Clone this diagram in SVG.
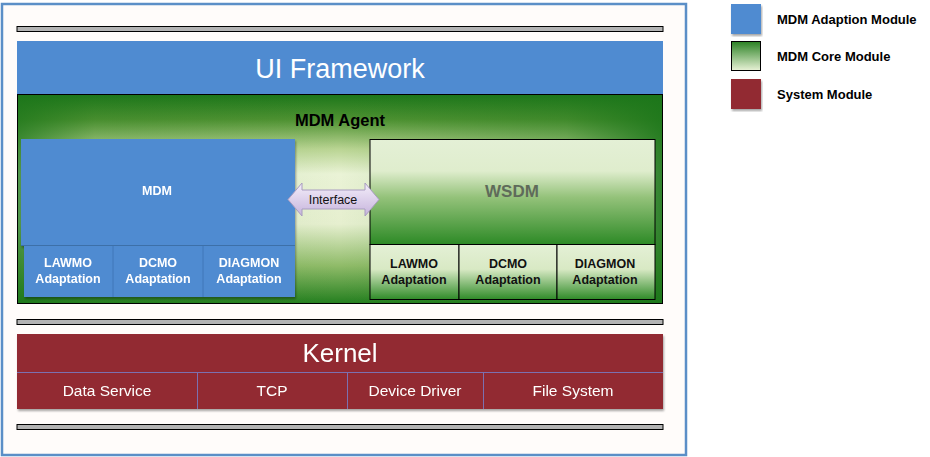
<svg xmlns="http://www.w3.org/2000/svg" width="930" height="457" viewBox="0 0 930 457">
<defs>
<style>
.t{font-family:"Liberation Sans",Arial,sans-serif}
.b{font-weight:bold}
.bar{fill:#b3b3b3;stroke:#000;stroke-width:1}
.blue{fill:#4f8bd1}
.adw{fill:#fff;font-size:12.5px;font-weight:bold;text-anchor:middle}
.adk{fill:#111;font-size:12.5px;font-weight:bold;text-anchor:middle}
.cell{fill:url(#gcell);stroke:#000;stroke-width:1}
.kc{fill:#fff;font-size:15.5px;text-anchor:middle}
.leg{font-size:13px;font-weight:bold;fill:#000}
</style>
<linearGradient id="gagent" x1="0" y1="0" x2="0" y2="1">
<stop offset="0" stop-color="#1c761a"/>
<stop offset="0.12" stop-color="#4f9232"/>
<stop offset="0.26" stop-color="#b9d492"/>
<stop offset="0.38" stop-color="#eaf3d6"/>
<stop offset="0.62" stop-color="#e6efcf"/>
<stop offset="0.82" stop-color="#8fbb68"/>
<stop offset="1" stop-color="#247f1f"/>
</linearGradient>
<linearGradient id="gedge" x1="0" y1="0" x2="1" y2="0">
<stop offset="0" stop-color="#1c761a" stop-opacity="0.75"/>
<stop offset="0.12" stop-color="#1c761a" stop-opacity="0.15"/>
<stop offset="0.5" stop-color="#1c761a" stop-opacity="0"/>
<stop offset="0.85" stop-color="#1c761a" stop-opacity="0.3"/>
<stop offset="1" stop-color="#1c761a" stop-opacity="0.9"/>
</linearGradient>
<linearGradient id="gwsdm" x1="0" y1="0" x2="0" y2="1">
<stop offset="0" stop-color="#e4f0d6"/>
<stop offset="0.3" stop-color="#dfedcd"/>
<stop offset="0.55" stop-color="#94c27a"/>
<stop offset="1" stop-color="#2d8a26"/>
</linearGradient>
<linearGradient id="gcell" x1="0" y1="0" x2="0" y2="1">
<stop offset="0" stop-color="#e4f0d6"/>
<stop offset="0.45" stop-color="#d8e9c4"/>
<stop offset="1" stop-color="#2f8b28"/>
</linearGradient>
<linearGradient id="glegend" x1="0" y1="0" x2="0" y2="1">
<stop offset="0" stop-color="#2b8124"/>
<stop offset="1" stop-color="#e8f2d6"/>
</linearGradient>
<linearGradient id="gif" x1="0" y1="0" x2="0" y2="1">
<stop offset="0" stop-color="#f4eefa"/>
<stop offset="1" stop-color="#c6b4dc"/>
</linearGradient>
<filter id="sh" x="-5%" y="-5%" width="110%" height="115%">
<feDropShadow dx="1" dy="2" stdDeviation="1.2" flood-color="#000" flood-opacity="0.35"/>
</filter>
</defs>

<g id="frame">
<rect x="2" y="4" width="684" height="451" fill="#fffcfa" stroke="#5b8fc7" stroke-width="2.5"/>
</g>

<g id="bar-top"><rect class="bar" x="17" y="26.5" width="646" height="5"/></g>

<g id="ui-framework">
<rect class="blue" x="17" y="41" width="646" height="53"/>
<text class="t" x="340" y="78" font-size="27" fill="#fff" text-anchor="middle">UI Framework</text>
</g>

<g id="mdm-agent">
<rect x="17.5" y="94.5" width="645" height="209" fill="url(#gagent)"/>
<rect x="17.5" y="94.5" width="645" height="209" fill="url(#gedge)" stroke="#000" stroke-width="1"/>
<text class="t b" x="340" y="126" font-size="16.5" fill="#000" text-anchor="middle">MDM Agent</text>
</g>

<g id="mdm" filter="url(#sh)">
<rect class="blue" x="21" y="139" width="274" height="106"/>
<text class="t adw" x="157" y="195">MDM</text>
<rect class="blue" x="24" y="246" width="271" height="51"/>
<line x1="21" y1="245.5" x2="295" y2="245.5" stroke="#3e6fa8" stroke-width="1"/>
<line x1="113" y1="246" x2="113" y2="297" stroke="#3f77b8" stroke-width="1"/>
<line x1="203" y1="246" x2="203" y2="297" stroke="#3f77b8" stroke-width="1"/>
<text class="t adw" x="68" y="267">LAWMO</text>
<text class="t adw" x="68" y="283">Adaptation</text>
<text class="t adw" x="158" y="267">DCMO</text>
<text class="t adw" x="158" y="283">Adaptation</text>
<text class="t adw" x="249" y="267">DIAGMON</text>
<text class="t adw" x="249" y="283">Adaptation</text>
</g>

<g id="wsdm">
<rect x="370" y="139.5" width="285" height="105" fill="url(#gwsdm)" stroke="#000" stroke-width="1"/>
<text class="t b" x="512" y="197" font-size="17" fill="#5f6b5a" text-anchor="middle">WSDM</text>
<rect class="cell" x="370" y="244.5" width="89" height="55"/>
<rect class="cell" x="459" y="244.5" width="98" height="55"/>
<rect class="cell" x="557" y="244.5" width="98" height="55"/>
<text class="t adk" x="414" y="268">LAWMO</text>
<text class="t adk" x="414" y="284">Adaptation</text>
<text class="t adk" x="508" y="268">DCMO</text>
<text class="t adk" x="508" y="284">Adaptation</text>
<text class="t adk" x="605" y="268">DIAGMON</text>
<text class="t adk" x="605" y="284">Adaptation</text>
</g>

<g id="connectors">
<g id="interface">
<path d="M288,199.5 L302,183 L302,190 L365,190 L365,183 L379,199.5 L365,216 L365,209 L302,209 L302,216 Z" fill="url(#gif)" stroke="#a89cc0" stroke-width="1"/>
<text class="t" x="333" y="204" font-size="12.5" fill="#111" text-anchor="middle">Interface</text>
</g>
</g>

<g id="bar-mid"><rect class="bar" x="17" y="319.5" width="646" height="5"/></g>

<g id="kernel" filter="url(#sh)">
<rect x="17" y="334" width="646" height="75" fill="#922b30"/>
<text class="t" x="340" y="362" font-size="26" fill="#fff" text-anchor="middle">Kernel</text>
<line x1="17" y1="372.5" x2="663" y2="372.5" stroke="#7c6fb0" stroke-width="1"/>
<line x1="197.5" y1="372" x2="197.5" y2="409" stroke="#7c6fb0" stroke-width="1"/>
<line x1="347.5" y1="372" x2="347.5" y2="409" stroke="#7c6fb0" stroke-width="1"/>
<line x1="483.5" y1="372" x2="483.5" y2="409" stroke="#7c6fb0" stroke-width="1"/>
<text class="t kc" x="107" y="396">Data Service</text>
<text class="t kc" x="272" y="396">TCP</text>
<text class="t kc" x="415" y="396">Device Driver</text>
<text class="t kc" x="573" y="396">File System</text>
</g>

<g id="bar-bottom"><rect class="bar" x="17" y="424.5" width="646" height="5"/></g>

<g id="legend">
<rect x="731" y="4" width="30" height="30" class="blue" filter="url(#sh)"/>
<rect x="731.5" y="41.5" width="29" height="29" fill="url(#glegend)" stroke="#000" stroke-width="1"/>
<rect x="731" y="79" width="30" height="30" fill="#922b30" filter="url(#sh)"/>
<text class="t leg" x="777" y="24">MDM Adaption Module</text>
<text class="t leg" x="777" y="61">MDM Core Module</text>
<text class="t leg" x="777" y="99">System Module</text>
</g>
</svg>
